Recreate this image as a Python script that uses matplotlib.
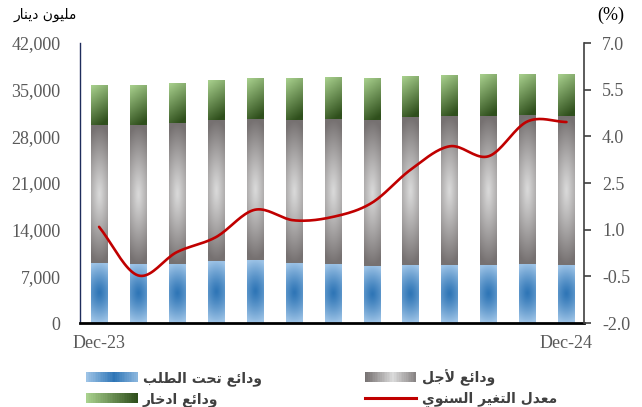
import numpy as np
import matplotlib
matplotlib.use("Agg")
import matplotlib.pyplot as plt
from matplotlib.patches import Rectangle, Patch
from matplotlib.lines import Line2D
from matplotlib.legend_handler import HandlerBase
from matplotlib.ticker import FuncFormatter, MultipleLocator, FixedLocator

# data
months = ["Dec-23", "", "", "", "", "", "", "", "", "", "", "", "Dec-24"]
demand = [9000, 8850, 8850, 9300, 9450, 9000, 8850, 8550, 8700, 8700, 8700, 8850, 8700]
term_top = [29700, 29700, 30000, 30450, 30600, 30450, 30600, 30450, 30900, 31050, 31050, 31200, 31050]
total_top = [35550, 35550, 35850, 36300, 36600, 36600, 36750, 36600, 36900, 37050, 37200, 37200, 37200]
growth = [1.09, -0.47, 0.28, 0.76, 1.64, 1.30, 1.41, 1.86, 2.93, 3.68, 3.36, 4.48, 4.46]
right_ticks = [-2.0, -0.5, 1.0, 2.5, 4.0, 5.5, 7.0]

term = [b - a for a, b in zip(demand, term_top)]
savings = [b - a for a, b in zip(term_top, total_top)]

lbl_demand = "ودائع تحت الطلب"
lbl_term = "ودائع لأجل"
lbl_savings = "ودائع ادخار"
lbl_growth = "معدل التغير السنوي"
unit_left = "مليون دينار"

# --- tiny arabic shaper (matplotlib does no shaping / bidi) ---
FORMS = {
    'ا': (0xFE8D, 0xFE8E), 'أ': (0xFE83, 0xFE84), 'د': (0xFEA9, 0xFEAA),
    'ر': (0xFEAD, 0xFEAE), 'و': (0xFEED, 0xFEEE),
    'ب': (0xFE8F, 0xFE90, 0xFE91, 0xFE92), 'ت': (0xFE95, 0xFE96, 0xFE97, 0xFE98),
    'ج': (0xFE9D, 0xFE9E, 0xFE9F, 0xFEA0), 'ح': (0xFEA1, 0xFEA2, 0xFEA3, 0xFEA4),
    'خ': (0xFEA5, 0xFEA6, 0xFEA7, 0xFEA8), 'س': (0xFEB1, 0xFEB2, 0xFEB3, 0xFEB4),
    'ط': (0xFEC1, 0xFEC2, 0xFEC3, 0xFEC4), 'ع': (0xFEC9, 0xFECA, 0xFECB, 0xFECC),
    'غ': (0xFECD, 0xFECE, 0xFECF, 0xFED0), 'ل': (0xFEDD, 0xFEDE, 0xFEDF, 0xFEE0),
    'م': (0xFEE1, 0xFEE2, 0xFEE3, 0xFEE4), 'ن': (0xFEE5, 0xFEE6, 0xFEE7, 0xFEE8),
    'ي': (0xFEF1, 0xFEF2, 0xFEF3, 0xFEF4), 'ئ': (0xFE89, 0xFE8A, 0xFE8B, 0xFE8C),
}


def shape(text):
    out = []
    prev = False  # previous letter connects forward
    i = 0
    while i < len(text):
        c = text[i]
        if c not in FORMS:
            out.append(c)
            prev = False
            i += 1
            continue
        if c == 'ل' and i + 1 < len(text) and text[i + 1] == 'أ':
            out.append(chr(0xFEF8 if prev else 0xFEF7))
            prev = False
            i += 2
            continue
        f = FORMS[c]
        nxt = text[i + 1] if i + 1 < len(text) else None
        joins = len(f) == 4 and nxt in FORMS
        if prev and joins:
            g = f[3]
        elif prev:
            g = f[1]
        elif joins:
            g = f[2]
        else:
            g = f[0]
        out.append(chr(g))
        prev = len(f) == 4
        i += 1
    return "".join(reversed(out))


def mix(c1, c2, t):
    c1 = np.array(matplotlib.colors.to_rgb(c1))
    c2 = np.array(matplotlib.colors.to_rgb(c2))
    t = np.clip(t, 0, 1)[..., None]
    return c1 * (1 - t) + c2 * t


def bar_image(kind, n=80):
    yy, xx = np.mgrid[0:1:n * 1j, 0:1:20j]
    if kind == "green":
        t = (1 - yy) * 0.85 + xx * 0.25
        return mix("#a9d18e", "#2f4f1c", t)
    dy = np.abs(yy - 0.5) * 2
    dx = np.abs(xx - 0.5) * 2
    d = np.sqrt(dy ** 2 + (0.45 * dx) ** 2)
    if kind == "blue":
        return mix("#2e75b6", "#9dc3e6", d ** 1.2)
    return mix("#dadada", "#767171", d ** 1.1)


def strip_colors(kind, n=30):
    s = np.linspace(0, 1, n)
    if kind == "green":
        return mix("#a9d18e", "#2f4f1c", s)
    d = np.abs(s - 0.55) / 0.55
    if kind == "blue":
        return mix("#2e75b6", "#9dc3e6", d)
    return mix("#dadada", "#767171", d)


class GradHandler(HandlerBase):
    def __init__(self, kind):
        super().__init__()
        self.kind = kind

    def create_artists(self, legend, orig_handle, xdescent, ydescent, width, height, fontsize, trans):
        cols = strip_colors(self.kind)
        n = len(cols)
        w = width / n
        return [Rectangle((-xdescent + i * w, -ydescent), w * 1.1, height, fc=cols[i],
                          ec="none", transform=trans) for i in range(n)]


fig = plt.figure(figsize=(6.42, 4.07), dpi=100)
ax = fig.add_axes([80 / 642, 1 - 323 / 407, 504 / 642, 280 / 407])
ax2 = ax.twinx()

x = np.arange(len(months))
width = 0.42
layers = [
    (demand, [0] * len(x), "blue"),
    (term, demand, "gray"),
    (savings, term_top, "green"),
]
for vals, base, kind in layers:
    bars = ax.bar(x, vals, width, bottom=base, color="none", edgecolor="none")
    img = bar_image(kind)
    for p in bars:
        ax.imshow(img, extent=[p.get_x(), p.get_x() + p.get_width(), p.get_y(), p.get_y() + p.get_height()],
                  origin="lower", aspect="auto", interpolation="bilinear", zorder=2)


# smoothed line like excel (catmull-rom between the monthly points)
def smooth(xs, ys, k=20):
    xs = np.asarray(xs, float)
    ys = np.asarray(ys, float)
    px = np.concatenate([[2 * xs[0] - xs[1]], xs, [2 * xs[-1] - xs[-2]]])
    py = np.concatenate([[2 * ys[0] - ys[1]], ys, [2 * ys[-1] - ys[-2]]])
    ox, oy = [], []
    t = np.linspace(0, 1, k, endpoint=False)
    for i in range(1, len(px) - 2):
        for arr, o in ((px, ox), (py, oy)):
            p0, p1, p2, p3 = arr[i - 1:i + 3]
            o.extend(0.5 * (2 * p1 + (-p0 + p2) * t + (2 * p0 - 5 * p1 + 4 * p2 - p3) * t ** 2
                            + (-p0 + 3 * p1 - 3 * p2 + p3) * t ** 3))
    ox.append(xs[-1])
    oy.append(ys[-1])
    return ox, oy


sx, sy = smooth(x, growth)
ax2.plot(sx, sy, color="#c00000", lw=1.9, solid_capstyle="round")

ax.set_xlim(-0.49, 12.45)
ax.set_ylim(0, 42000)
ax2.set_ylim(-2, 7)
ax.yaxis.set_major_locator(MultipleLocator(7000))
ax.yaxis.set_major_formatter(FuncFormatter(lambda v, p: f"{v:,.0f}"))
ax2.yaxis.set_major_locator(FixedLocator(right_ticks))
ax2.yaxis.set_major_formatter(FuncFormatter(lambda v, p: f"{v:.1f}"))
ax.set_xticks(x)
ax.set_xticklabels(months)

serif = "Liberation Serif"
for a in (ax, ax2):
    a.spines["top"].set_visible(False)
    for lab in a.get_yticklabels() + a.get_xticklabels():
        lab.set_fontfamily(serif)
        lab.set_fontsize(13)
        lab.set_color("#595959")
ax.tick_params(axis="y", length=0, pad=14)
ax.tick_params(axis="x", length=0, pad=9)
ax2.tick_params(axis="y", length=5, width=1.2, color="#404040", pad=8)
ax.spines["left"].set_color("#1f2d5c")
ax.spines["left"].set_linewidth(1)
ax.spines["right"].set_visible(False)
ax2.spines["left"].set_visible(False)
ax2.spines["bottom"].set_visible(False)
ax2.spines["right"].set_color("#404040")
ax2.spines["right"].set_linewidth(1.2)
ax.spines["bottom"].set_color("black")
ax.spines["bottom"].set_linewidth(2)

fig.text(14 / 642, 1 - 15 / 407, shape(unit_left), family=["DejaVu Sans"], fontsize=10,
         ha="left", va="center", color="black")
fig.text(611 / 642, 1 - 15 / 407, "(%)", family=serif, fontsize=13, ha="center", va="center", color="black")

h_demand = Patch(label="b")
h_savings = Patch(label="g")
h_term = Patch(label="t")
h_growth = Line2D([], [], color="#c00000", lw=2.2)
leg = fig.legend([h_demand, h_savings, h_term, h_growth],
                 [shape(lbl_demand), shape(lbl_savings), shape(lbl_term), shape(lbl_growth)],
                 handler_map={h_demand: GradHandler("blue"), h_savings: GradHandler("green"),
                              h_term: GradHandler("gray")},
                 ncol=2, loc="upper left", bbox_to_anchor=(86 / 642, 1 - 369 / 407),
                 frameon=False, borderpad=0, borderaxespad=0, handlelength=3.7, handleheight=0.7,
                 handletextpad=0.4, columnspacing=7.4, labelspacing=0.45,
                 prop={"family": "DejaVu Sans", "weight": "bold", "size": 10})
for t in leg.get_texts():
    t.set_color("#404040")

fig.savefig("out.png", dpi=100)
